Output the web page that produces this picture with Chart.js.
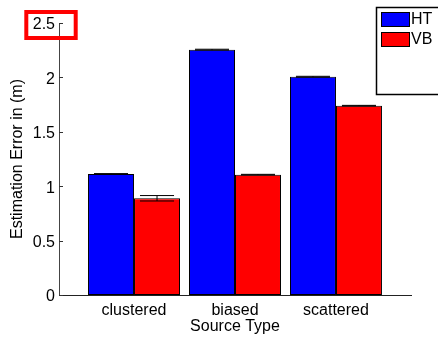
<!DOCTYPE html>
<html lang="en">
<head>
  <meta charset="UTF-8">
  <title>Estimation Error by Source Type</title>
  <script src="https://cdn.jsdelivr.net/npm/chart.js"></script>
  <style>
    html, body { margin: 0; padding: 0; background: #fff; }
    #wrap { width: 438px; height: 339px; position: relative; }
  </style>
</head>
<body>
  <div id="wrap"><canvas id="grafico"></canvas></div>

  <script>
    // data
    const categories = ['clustered', 'biased', 'scattered'];
    const seriesNames = ['HT', 'VB'];
    const htValues = [1.112, 2.255, 2.006];
    const vbValues = [0.889, 1.106, 1.740];
    const htErrors = [0.004, 0.004, 0.004];
    const vbErrors = [0.025, 0.003, 0.003];
    const yTicks = [0, 0.5, 1, 1.5, 2, 2.5];

    const FONT = "'Liberation Sans', Arial, Helvetica, sans-serif";

    const toPoints = vals => vals.map((v, i) => ({ x: i + 1, y: v }));

    // inward tick marks, error bars, legend box and the red marker box
    const extras = {
      id: 'extras',
      afterDatasetsDraw(chart) {
        const ctx = chart.ctx;
        const yS = chart.scales.y;
        const area = chart.chartArea;
        ctx.save();

        // error bars
        const errs = [htErrors, vbErrors];
        chart.data.datasets.forEach((ds, di) => {
          chart.getDatasetMeta(di).data.forEach((bar, i) => {
            const v = ds.data[i].y;
            const e = errs[di][i];
            const top = yS.getPixelForValue(v + e);
            const bot = yS.getPixelForValue(v - e);
            const half = bar.width * 0.37;
            ctx.strokeStyle = '#000';
            ctx.lineWidth = 1;
            ctx.beginPath();
            ctx.moveTo(bar.x, top); ctx.lineTo(bar.x, bot);
            ctx.moveTo(bar.x - half, top); ctx.lineTo(bar.x + half, top);
            ctx.moveTo(bar.x - half, bot); ctx.lineTo(bar.x + half, bot);
            ctx.stroke();
          });
        });

        // y ticks pointing inward
        ctx.strokeStyle = '#333';
        ctx.beginPath();
        yTicks.forEach(t => {
          const py = Math.round(yS.getPixelForValue(t)) + 0.5;
          ctx.moveTo(area.left, py);
          ctx.lineTo(area.left + 4, py);
        });
        ctx.stroke();

        // legend
        const lx = 376, ly = 7;
        ctx.fillStyle = '#fff';
        ctx.fillRect(lx, ly, 70, 87);
        ctx.strokeStyle = '#000';
        ctx.lineWidth = 1.5;
        ctx.strokeRect(lx + 0.5, ly + 0.5, 70, 87);
        ctx.font = '16px ' + FONT;
        ctx.textBaseline = 'middle';
        chart.data.datasets.forEach((ds, di) => {
          const sy = 12 + di * 20;
          ctx.fillStyle = ds.backgroundColor;
          ctx.fillRect(381, sy, 29, 15);
          ctx.lineWidth = 1;
          ctx.strokeStyle = '#000';
          ctx.strokeRect(381.5, sy + 0.5, 28, 14);
          ctx.fillStyle = '#000';
          ctx.fillText(ds.label, 411, sy + 8);
        });

        // red marker around the top tick label
        ctx.strokeStyle = '#ff0000';
        ctx.lineWidth = 4;
        ctx.strokeRect(26.3, 12, 49.4, 26);
        ctx.restore();
      }
    };

    const config = {
      type: 'bar',
      data: {
        datasets: [
          {
            label: seriesNames[0],
            data: toPoints(htValues),
            backgroundColor: '#0000ff',
            borderColor: '#000',
            borderWidth: 1,
            borderSkipped: false
          },
          {
            label: seriesNames[1],
            data: toPoints(vbValues),
            backgroundColor: '#ff0000',
            borderColor: '#000',
            borderWidth: 1,
            borderSkipped: false
          }
        ]
      },
      options: {
        responsive: true,
        maintainAspectRatio: false,
        animation: false,
        layout: { padding: { top: 23, right: 27, bottom: 0, left: 0 } },
        datasets: { bar: { categoryPercentage: 0.911, barPercentage: 1 } },
        plugins: {
          legend: { display: false },
          tooltip: { enabled: false }
        },
        scales: {
          x: {
            type: 'linear',
            offset: false,
            min: 0.257,
            max: 3.743,
            afterBuildTicks: axis => {
              axis.ticks = categories.map((c, i) => ({ value: i + 1 }));
            },
            afterFit: axis => { axis.height = 44; },
            grid: { display: false, drawTicks: false },
            border: { display: true, color: '#222', width: 1 },
            ticks: {
              color: '#000',
              padding: 6,
              maxRotation: 0,
              autoSkip: false,
              font: { family: FONT, size: 16 },
              callback: v => categories[v - 1] || ''
            },
            title: {
              display: true,
              text: 'Source Type',
              color: '#000',
              font: { family: FONT, size: 16 },
              padding: { top: 0, bottom: 3 }
            }
          },
          y: {
            min: 0,
            max: 2.5,
            afterBuildTicks: axis => {
              axis.ticks = yTicks.map(v => ({ value: v }));
            },
            afterFit: axis => { axis.width = 59; },
            grid: { display: false, drawTicks: false },
            border: { display: true, color: '#444', width: 1 },
            ticks: {
              color: '#000',
              padding: 4,
              labelOffset: 2,
              font: { family: FONT, size: 16 },
              callback: v => String(v)
            },
            title: {
              display: true,
              text: 'Estimation Error in (m)',
              color: '#000',
              font: { family: FONT, size: 16 },
              padding: { top: 8, bottom: 0 }
            }
          }
        }
      },
      plugins: [extras]
    };

    new Chart(document.getElementById('grafico').getContext('2d'), config);
  </script>
</body>
</html>
